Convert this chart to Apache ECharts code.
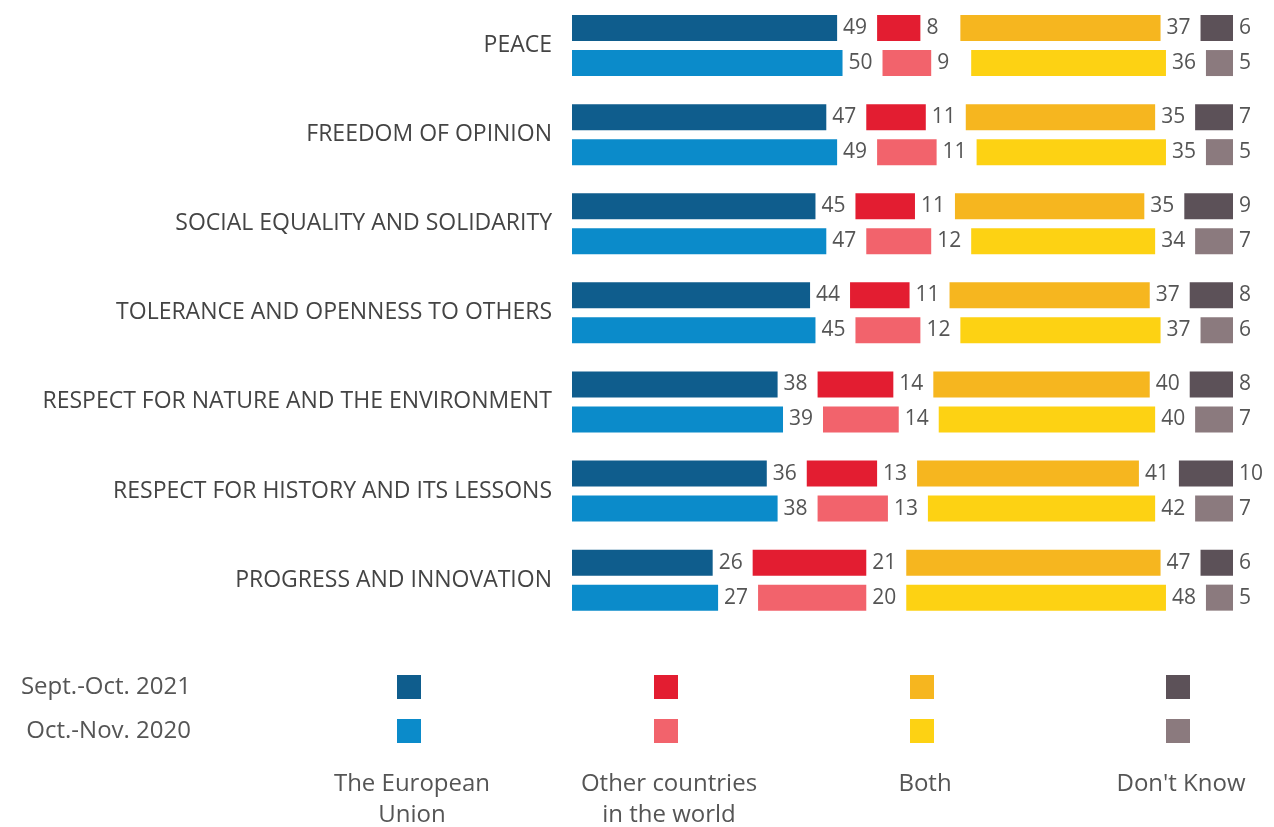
<!DOCTYPE html>
<html><head><meta charset="utf-8">
<script src="https://cdn.jsdelivr.net/npm/echarts@6/dist/echarts.min.js"></script>
<style>html,body{margin:0;padding:0;background:#fff}#c{width:1274px;height:827px}</style>
</head><body><div id="c"></div>
<script>
const categories = ['PEACE','FREEDOM OF OPINION','SOCIAL EQUALITY AND SOLIDARITY','TOLERANCE AND OPENNESS TO OTHERS','RESPECT FOR NATURE AND THE ENVIRONMENT','RESPECT FOR HISTORY AND ITS LESSONS','PROGRESS AND INNOVATION'];
const eu2021 = [49,47,45,44,38,36,26];
const other2021 = [8,11,11,11,14,13,21];
const both2021 = [37,35,35,37,40,41,47];
const dk2021 = [6,7,9,8,8,10,6];
const eu2020 = [50,49,47,45,39,38,27];
const other2020 = [9,11,12,12,14,13,20];
const both2020 = [36,35,34,37,40,42,48];
const dk2020 = [5,5,7,6,7,7,5];
const answerNames = ['The European\nUnion','Other countries\nin the world','Both',"Don't Know"];
const waveNames = ['Sept.-Oct. 2021','Oct.-Nov. 2020'];
const colors2021 = ['#0f5d8d','#e31d31','#f6b61f','#5c5158'];
const colors2020 = ['#0b8bca','#f2636c','#fdd213','#8b7a7e'];

const GAP = 7.39; // spacing between segments, in axis units
const FONT = '"Open Sans", "DejaVu Sans", sans-serif';
const TXT = '#555';

function buildStack(vals, cols, stack) {
  const out = [];
  vals.forEach((v, i) => {
    out.push({
      type: 'bar', stack: stack, barWidth: 26, barGap: '34.6%',
      data: v, itemStyle: { color: cols[i] },
      label: { show: true, position: 'right', distance: 6, color: TXT, fontSize: 21, fontFamily: FONT },
      silent: true
    });
    if (i < vals.length - 1) {
      out.push({
        type: 'bar', stack: stack, barWidth: 26, barGap: '34.6%',
        data: v.map(() => GAP), itemStyle: { color: 'rgba(0,0,0,0)' }, silent: true
      });
    }
  });
  return out;
}

const series = [].concat(
  buildStack([eu2021, other2021, both2021, dk2021], colors2021, 's2021'),
  buildStack([eu2020, other2020, both2020, dk2020], colors2020, 's2020')
);

const graphics = [];
const colX = [409, 666, 922, 1178];
waveNames.forEach((w, r) => {
  const cy = r === 0 ? 687 : 731;
  graphics.push({ type: 'text', x: 191, y: cy, 
    style: { text: w, fill: TXT, font: '24px ' + FONT, textAlign: 'right', textVerticalAlign: 'middle' } });
  const cols = r === 0 ? colors2021 : colors2020;
  colX.forEach((x, k) => {
    graphics.push({ type: 'rect', shape: { x: x - 12, y: cy - 12, width: 24, height: 24 }, style: { fill: cols[k] } });
  });
});
answerNames.forEach((a, k) => {
  graphics.push({ type: 'text', x: colX[k] + 3, y: 769,
    style: { text: a, fill: TXT, font: '24px ' + FONT, textAlign: 'center', lineHeight: 31 } });
});

const chart = echarts.init(document.getElementById('c'));
chart.setOption({
  backgroundColor: '#fff',
  animation: false,
  grid: { left: 572, top: 1, width: 661, height: 623.7, containLabel: false },
  xAxis: { type: 'value', min: 0, max: 100 + 3 * GAP, show: false },
  yAxis: {
    type: 'category', data: categories, inverse: true,
    axisLine: { show: false }, axisTick: { show: false },
    axisLabel: { color: '#444', fontSize: 23, fontFamily: FONT, margin: 20 }
  },
  series: series,
  graphic: graphics
});
</script></body></html>
